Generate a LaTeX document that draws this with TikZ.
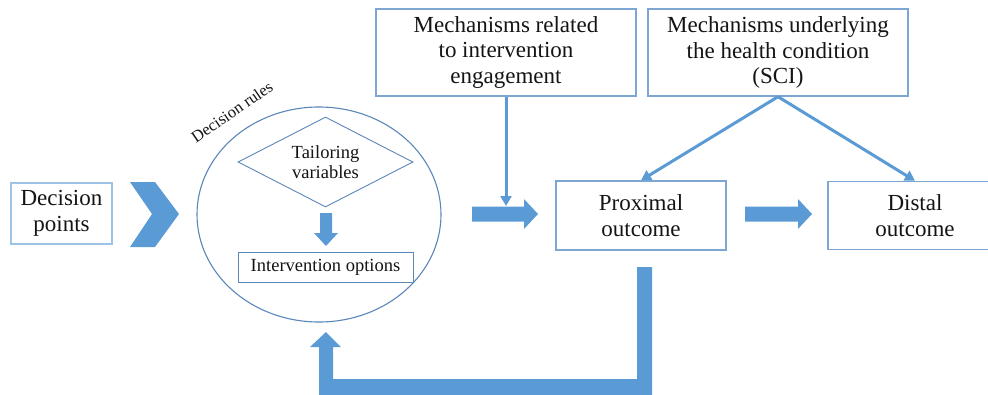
\documentclass[tikz,border=0pt]{standalone}
\usepackage{fontspec}
\setmainfont{Liberation Serif}
\usetikzlibrary{shapes.geometric,arrows.meta}
\definecolor{flow}{HTML}{5B9BD5}
\definecolor{frame}{HTML}{7EA6D3}
\definecolor{lightframe}{HTML}{9DC3E6}
\definecolor{ring}{HTML}{5A86B8}
\definecolor{ink}{HTML}{141414}
\begin{document}
\begin{tikzpicture}[x=1pt,y=-1pt,
  box/.style={draw=frame, line width=1.4pt, text=ink, align=center, inner sep=0pt},
  big/.style={font=\fontsize{23}{25.5}\selectfont},
  link/.style={draw=flow, line width=3pt, -{Triangle[width=11pt,length=10pt]}},
  block/.style={fill=flow, draw=none}]
\useasboundingbox (0,0) rectangle (988,394);
\clip (0,0) rectangle (988,394);

% entry box and chevron
\node[box, draw=lightframe, big, minimum width=101, minimum height=61] (points) at (61.5,213.5) {Decision\\points};
\fill[block] (130,182) -- (155,182) -- (179,214) -- (155,247) -- (130,247) -- (152,214) -- cycle;

% decision rules
\node[draw=ring, line width=1.1pt, ellipse, minimum width=244, minimum height=215, inner sep=0pt] (rules) at (319,214.5) {};
\node[rotate=34.5, text=ink, inner sep=0pt, font=\fontsize{16.5}{18}\selectfont] (rulelabel) at (232,112) {Decision rules};
\node[box, draw=ring, line width=0.9pt, diamond, aspect=1.94, minimum width=175, minimum height=90, inner sep=1pt, font=\fontsize{18.5}{20.5}\selectfont] (tailor) at (325.5,162) {Tailoring\\variables};
\node[box, draw=ring, line width=0.9pt, minimum width=175, minimum height=30, font=\fontsize{18.5}{20}\selectfont] (options) at (325.5,267) {Intervention options};
\fill[block] (320,213) -- (332,213) -- (332,233) -- (338,233) -- (326,246) -- (314,233) -- (320,233) -- cycle;

% mechanisms
\node[box, big, minimum width=260, minimum height=87] (engage) at (506,52.5) {Mechanisms related\\to intervention\\engagement};
\node[box, big, minimum width=260, minimum height=87] (condition) at (778,52.5) {Mechanisms underlying\\the health condition\\(SCI)};

% outcomes
\node[box, big, minimum width=170, minimum height=69] (proximal) at (641,215.5) {Proximal\\outcome};
\node[box, big, minimum width=174, minimum height=68] (distal) at (915,215.5) {Distal\\outcome};

% block arrows
\fill[block] (472,206.5) -- (524,206.5) -- (524,199) -- (538,214) -- (524,229) -- (524,221.5) -- (472,221.5) -- cycle;
\fill[block] (745,206.5) -- (798,206.5) -- (798,199) -- (812,214) -- (798,229) -- (798,221.5) -- (745,221.5) -- cycle;

% thin links
\coordinate (inA) at (506,206);
\draw[link] (engage.south) -- (inA);
\draw[link] (condition.south) -- (proximal.north);
\draw[link] (condition.south) -- (distal.north);

% feedback loop
\fill[block] (637,267) -- (652,267) -- (652,400) -- (319,400) -- (319,347) -- (310,347) -- (326,332) -- (341,347) -- (333,347) -- (333,379) -- (637,379) -- cycle;
\end{tikzpicture}
\end{document}
